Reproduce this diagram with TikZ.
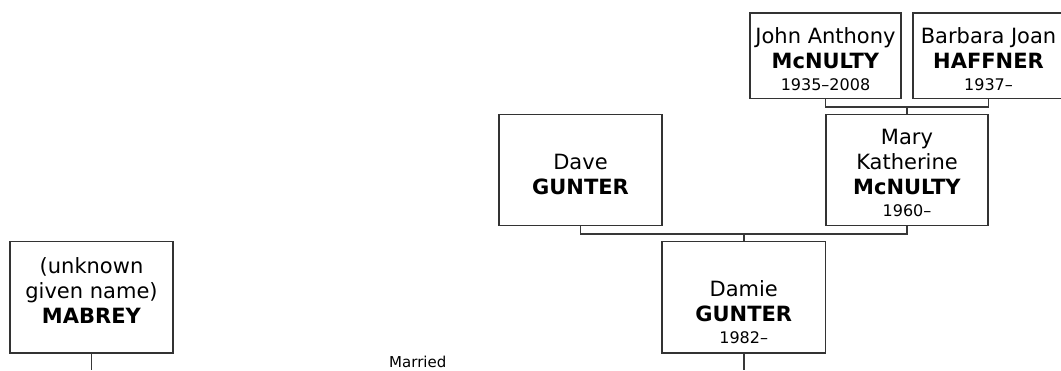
\documentclass[tikz,border=0pt]{standalone}
\usepackage{fontspec}
\setmainfont{DejaVu Sans}
\newcommand\yrtxt[1]{{\fontsize{16}{18}\selectfont #1}}
\begin{document}
\begin{tikzpicture}[x=1pt,y=-1pt,
  box/.style={draw=black!80, line width=1.2pt, fill=white, inner sep=0pt},
  lbl/.style={align=center, font=\fontsize{21}{25}\selectfont, inner sep=0pt},
  link/.style={draw=black!78, line width=1.8pt},
  note/.style={font=\fontsize{15}{15}\selectfont, inner sep=0pt, anchor=base}]
\useasboundingbox (0,0) rectangle (1061,370);
% boxes
\node[box, minimum width=151pt, minimum height=85.5pt] (john) at (825.5,55.75) {};
\node[box, minimum width=151pt, minimum height=85.5pt] (barbara) at (988.5,55.75) {};
\node[box, minimum width=163pt, minimum height=111pt] (dave) at (580.5,170.2) {};
\node[box, minimum width=162pt, minimum height=111pt] (mary) at (907,170.2) {};
\node[box, minimum width=163.5pt, minimum height=111.3pt] (damie) at (743.75,297.35) {};
\node[box, minimum width=163pt, minimum height=111.3pt] (mabrey) at (91.5,297.35) {};
% texts
\node[lbl] (johnt) at (825.5,59) {John Anthony\\\textbf{McNULTY}\\[-3pt]\yrtxt{1935–2008}};
\node[lbl] (barbarat) at (988.5,59) {Barbara Joan\\\textbf{HAFFNER}\\[-3pt]\yrtxt{1937–}};
\node[lbl] (davet) at (580.5,174) {Dave\\\textbf{GUNTER}};
\node[lbl] (maryt) at (907,172.5) {Mary\\Katherine\\\textbf{McNULTY}\\[-3pt]\yrtxt{1960–}};
\node[lbl] (damiet) at (743.75,312) {Damie\\\textbf{GUNTER}\\[-3pt]\yrtxt{1982–}};
\node[lbl] (mabreyt) at (91.5,291) {(unknown\\given name)\\\textbf{MABREY}};
\node[note] (married) at (417.8,367.5) {Married};
% connectors
\coordinate (jbm) at (907,106.7);
\coordinate (dmm) at (743.75,234);
\coordinate (dend) at (743.75,370);
\coordinate (mend) at (91.5,370);
\draw[link] (john.south) |- (jbm) -| (barbara.south);
\draw[link] (jbm) -- (mary.north);
\draw[link] (dave.south) |- (dmm) -| (mary.south);
\draw[link] (dmm) -- (damie.north);
\draw[link] (damie.south) -- (dend);
\draw[link] (mabrey.south) -- (mend);
\end{tikzpicture}
\end{document}
